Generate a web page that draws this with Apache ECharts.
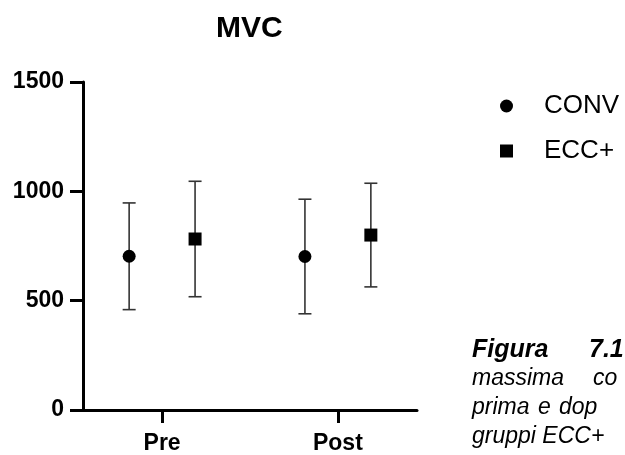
<!DOCTYPE html>
<html>
<head>
<meta charset="utf-8">
<script src="https://cdn.jsdelivr.net/npm/echarts@6/dist/echarts.min.js"></script>
<style>
  html, body { margin: 0; padding: 0; background: #fff; }
  #chart { width: 625px; height: 455px; }
</style>
</head>
<body>
<div id="chart"></div>
<script>
// MVC, mean +/- SD per group
const categories = ['Pre', 'Post']
const groups = ['CONV', 'ECC+']
const convMean = [703, 702]
const convSd = [244, 262]
const eccMean = [782, 800]
const eccSd = [264, 237]
const yTicks = [0, 500, 1000, 1500]

const FONT = "'Liberation Sans', Arial, sans-serif"
const DODGE = 0.1875 // horizontal shift of each group from the category tick

function barData(mean, sd, shift) {
  return mean.map((m, i) => [i + 1 + shift, m - sd[i], m + sd[i]])
}

function errorBar(params, api) {
  const x = api.value(0)
  const lo = api.coord([x, api.value(1)])
  const hi = api.coord([x, api.value(2)])
  const cap = 6.5
  const style = {stroke: '#333', lineWidth: 1.6}
  return {
    type: 'group',
    children: [
      {type: 'line', shape: {x1: lo[0], y1: lo[1], x2: hi[0], y2: hi[1]}, style},
      {type: 'line', shape: {x1: lo[0] - cap, y1: lo[1], x2: lo[0] + cap, y2: lo[1]}, style},
      {type: 'line', shape: {x1: hi[0] - cap, y1: hi[1], x2: hi[0] + cap, y2: hi[1]}, style}
    ]
  }
}

const chart = echarts.init(document.getElementById('chart'))

// caption words sit in a justified paragraph that is cut off by the right edge
function captionWord(text, x, yMid, bold) {
  const size = bold ? 25 : 23
  return {
    type: 'text',
    x: x,
    y: yMid,
    silent: true,
    style: {
      text: text,
      font: (bold ? 'italic bold ' : 'italic ') + size + 'px ' + FONT,
      fill: '#000',
      verticalAlign: 'middle'
    }
  }
}

chart.setOption({
  animation: false,
  backgroundColor: '#fff',
  title: {
    text: 'MVC',
    left: 216,
    top: 14,
    padding: 0,
    textStyle: {fontFamily: FONT, fontSize: 30, fontWeight: 'bold', color: '#000'}
  },
  legend: {
    orient: 'vertical',
    left: 500,
    top: 93,
    padding: 0,
    itemWidth: 13,
    itemHeight: 13,
    itemGap: 19,
    data: [
      {name: groups[0], icon: 'circle'},
      {name: groups[1], icon: 'rect'}
    ],
    textStyle: {fontFamily: FONT, fontSize: 26, color: '#000', padding: [0, 0, 0, 26], lineHeight: 26}
  },
  grid: {left: 83, right: 208, top: 82, bottom: 42, containLabel: false},
  xAxis: {
    type: 'value',
    min: 0.55,
    max: 2.45,
    splitLine: {show: false},
    axisLine: {lineStyle: {color: '#000', width: 3}},
    axisTick: {show: true, length: 13, lineStyle: {color: '#000', width: 3}, customValues: [1, 2]},
    axisLabel: {
      customValues: [1, 2],
      margin: 22,
      fontFamily: FONT, fontSize: 23, fontWeight: 'bold', color: '#000',
      formatter: v => categories[Math.round(v) - 1]
    }
  },
  yAxis: {
    type: 'value',
    min: yTicks[0],
    max: yTicks[yTicks.length - 1],
    interval: 500,
    splitLine: {show: false},
    axisLine: {show: true, lineStyle: {color: '#000', width: 3}},
    axisTick: {show: true, length: 13, lineStyle: {color: '#000', width: 3}},
    axisLabel: {
      margin: 19, fontFamily: FONT, fontSize: 23, fontWeight: 'bold', color: '#000',
      formatter: v => String(v)
    }
  },
  series: [
    {
      name: 'convErr', type: 'custom', renderItem: errorBar,
      data: barData(convMean, convSd, -DODGE), z: 1, silent: true
    },
    {
      name: 'eccErr', type: 'custom', renderItem: errorBar,
      data: barData(eccMean, eccSd, DODGE), z: 1, silent: true
    },
    {
      name: groups[0], type: 'scatter', symbol: 'circle', symbolSize: 13,
      itemStyle: {color: '#000', opacity: 1}, z: 3,
      data: convMean.map((m, i) => [i + 1 - DODGE, m])
    },
    {
      name: groups[1], type: 'scatter', symbol: 'rect', symbolSize: 13,
      itemStyle: {color: '#000', opacity: 1}, z: 3,
      data: eccMean.map((m, i) => [i + 1 + DODGE, m])
    }
  ],
  graphic: [
    captionWord('Figura', 472, 350, true),
    captionWord('7.1', 589, 350, true),
    captionWord('massima', 472, 379, false),
    captionWord('co', 593, 379, false),
    captionWord('prima', 472, 408, false),
    captionWord('e', 538, 408, false),
    captionWord('dop', 559, 408, false),
    captionWord('gruppi ECC+', 472, 437, false)
  ]
})
</script>
</body>
</html>
